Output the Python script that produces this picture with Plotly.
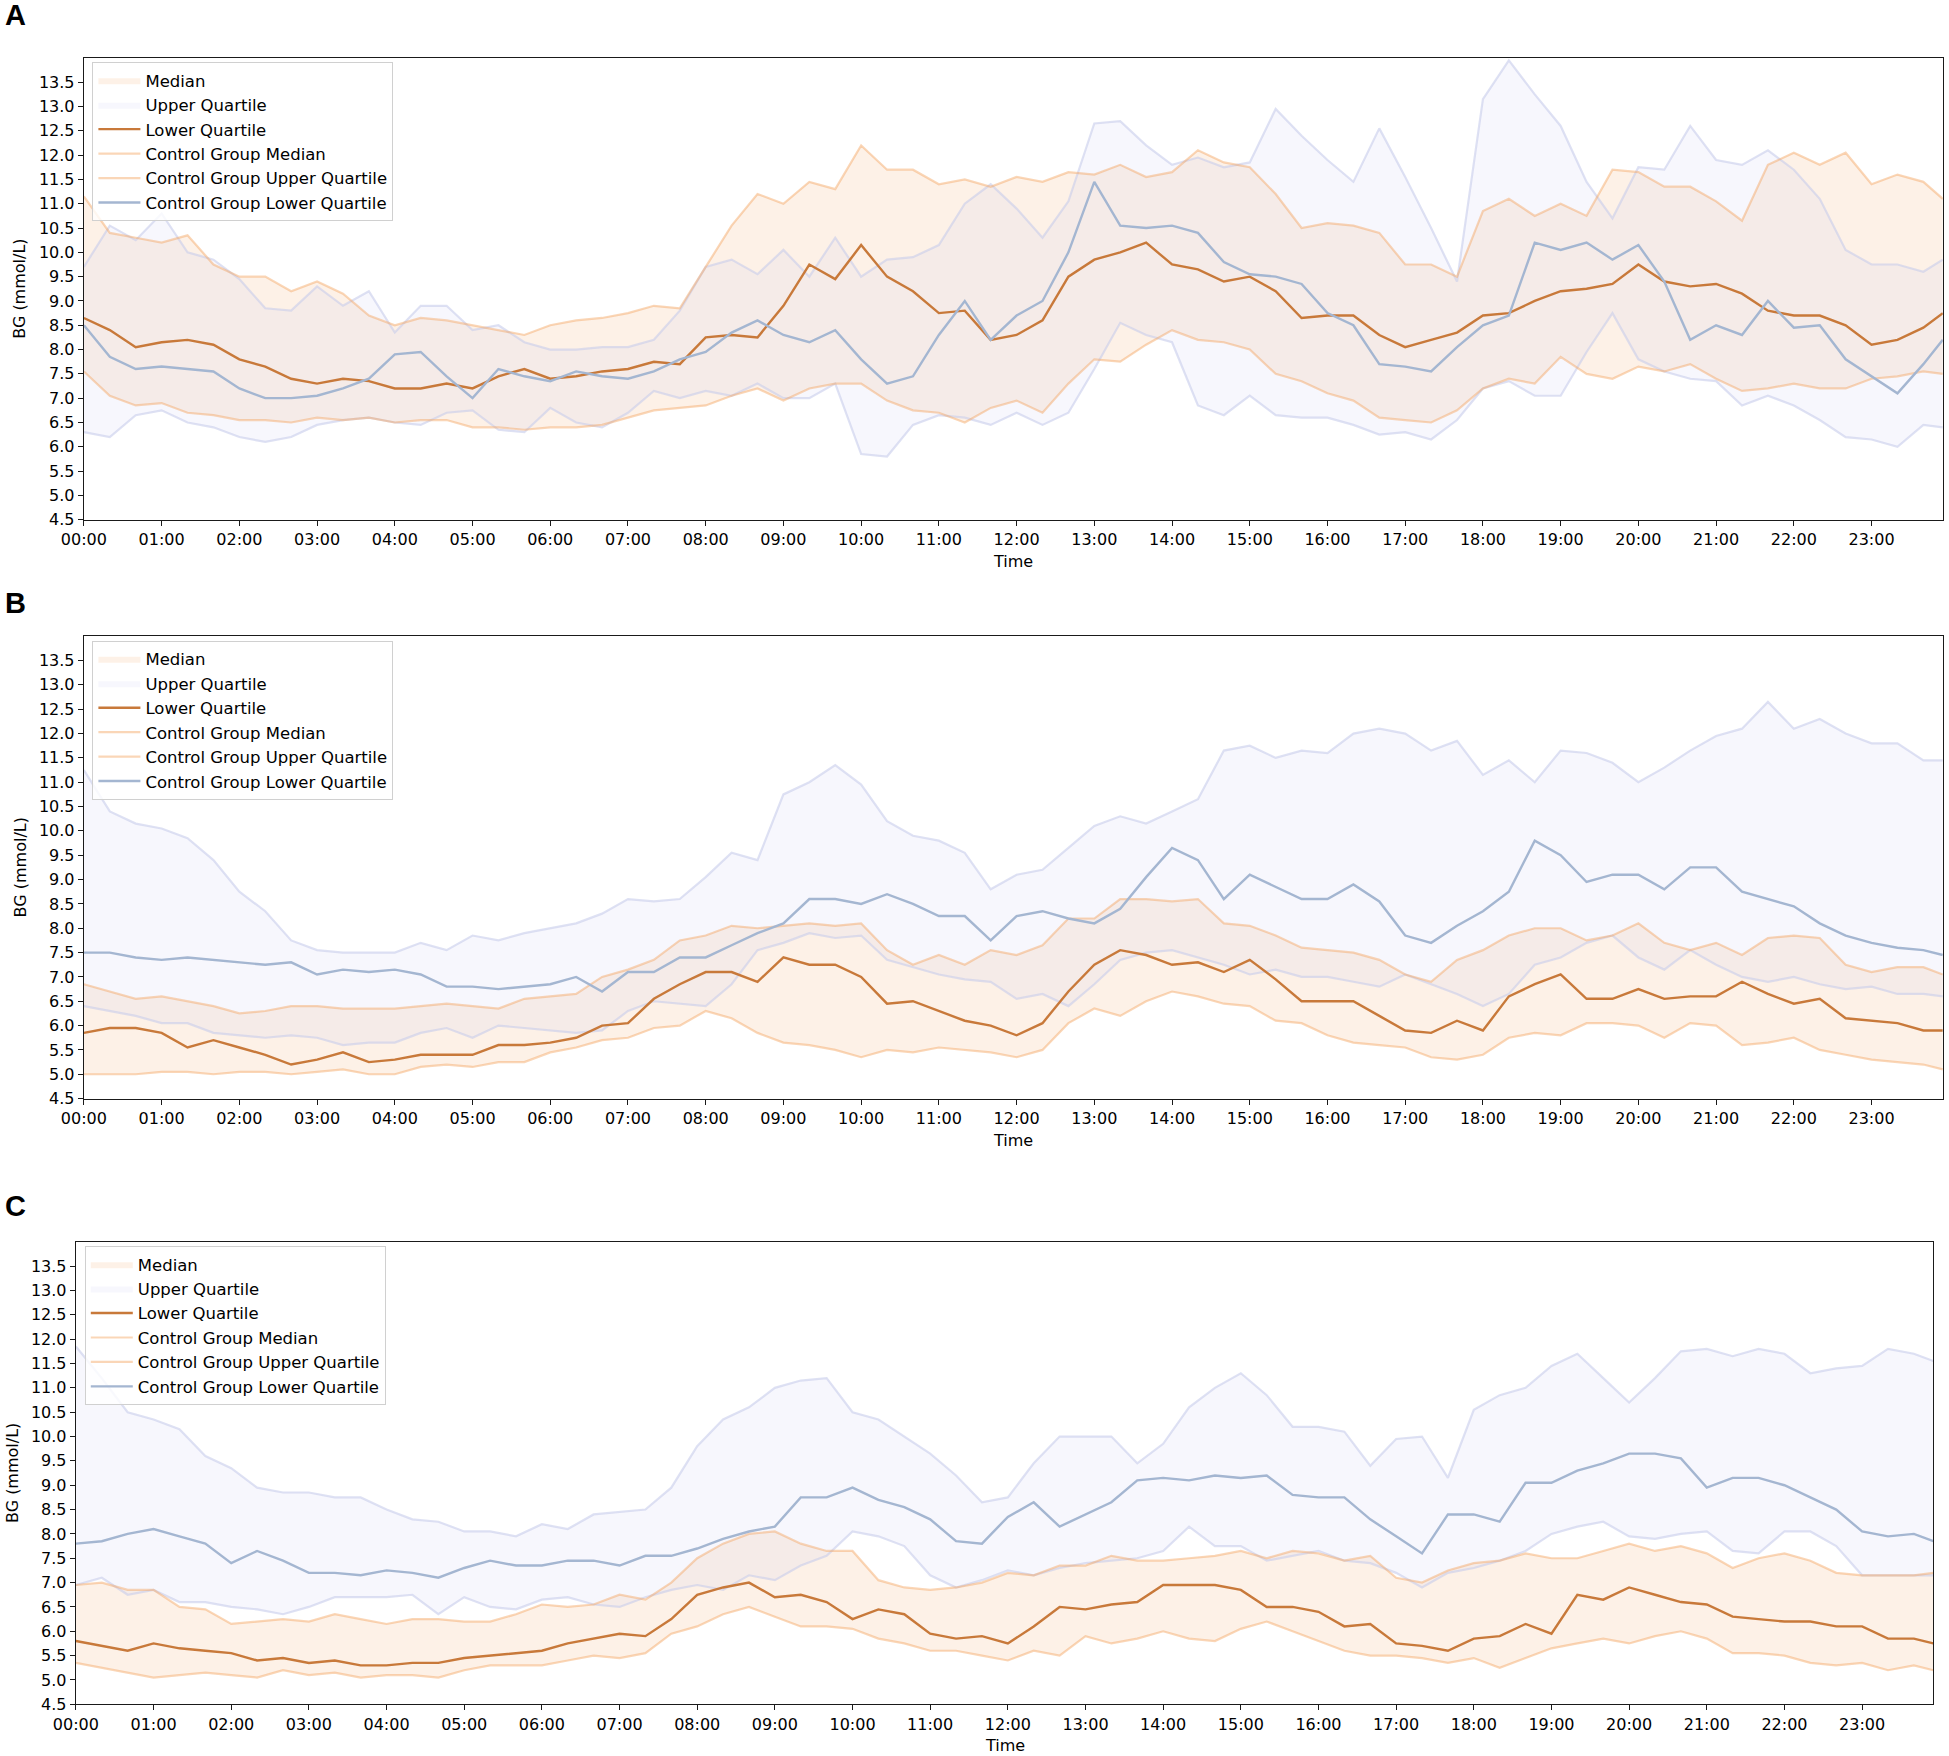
import plotly.graph_objects as go

# readings every 20 minutes, last one at 23:55 (minutes after midnight)
minutes = list(range(0, 1440, 20)) + [1435]

hour_ticks = list(range(0, 1440, 60))
hour_labels = ["00:00", "01:00", "02:00", "03:00", "04:00", "05:00", "06:00", "07:00",
               "08:00", "09:00", "10:00", "11:00", "12:00", "13:00", "14:00", "15:00",
               "16:00", "17:00", "18:00", "19:00", "20:00", "21:00", "22:00", "23:00"]
bg_ticks = [4.5, 5.0, 5.5, 6.0, 6.5, 7.0, 7.5, 8.0, 8.5, 9.0, 9.5, 10.0,
            10.5, 11.0, 11.5, 12.0, 12.5, 13.0, 13.5]

panel_letters = ["A", "B", "C"]
legend_names = ["Median", "Upper Quartile", "Lower Quartile", "Control Group Median",
                "Control Group Upper Quartile", "Control Group Lower Quartile"]

# ---- panel A ----
A_org_hi = [11.15, 10.4, 10.3, 10.2, 10.35, 9.75,
            9.5, 9.5, 9.2, 9.4, 9.15, 8.7,
            8.5, 8.65, 8.6, 8.5, 8.4, 8.3,
            8.5, 8.6, 8.65, 8.75, 8.9, 8.85,
            9.7, 10.55, 11.2, 11.0, 11.45, 11.3,
            12.2, 11.7, 11.7, 11.4, 11.5, 11.35,
            11.55, 11.45, 11.65, 11.6, 11.8, 11.55,
            11.65, 12.1, 11.85, 11.75, 11.2, 10.5,
            10.6, 10.55, 10.4, 9.75, 9.75, 9.5,
            10.85, 11.1, 10.75, 11.0, 10.75, 11.7,
            11.65, 11.35, 11.35, 11.05, 10.65, 11.8,
            12.05, 11.8, 12.05, 11.4, 11.6, 11.45,
            11.1]
A_org_lo = [7.55, 7.05, 6.85, 6.9, 6.7, 6.65,
            6.55, 6.55, 6.5, 6.6, 6.55, 6.6,
            6.5, 6.55, 6.55, 6.4, 6.4, 6.35,
            6.4, 6.4, 6.45, 6.6, 6.75, 6.8,
            6.85, 7.05, 7.2, 6.95, 7.2, 7.3,
            7.3, 6.95, 6.75, 6.7, 6.5, 6.8,
            6.95, 6.7, 7.3, 7.8, 7.75, 8.1,
            8.4, 8.2, 8.15, 8.0, 7.5, 7.35,
            7.1, 6.95, 6.6, 6.55, 6.5, 6.75,
            7.2, 7.4, 7.3, 7.85, 7.5, 7.4,
            7.65, 7.55, 7.7, 7.4, 7.15, 7.2,
            7.3, 7.2, 7.2, 7.4, 7.45, 7.55,
            7.5]
A_lav_hi = [9.7, 10.55, 10.25, 10.8, 10.0, 9.85,
            9.45, 8.85, 8.8, 9.3, 8.9, 9.2,
            8.35, 8.9, 8.9, 8.4, 8.5, 8.15,
            8.0, 8.0, 8.05, 8.05, 8.2, 8.8,
            9.7, 9.85, 9.55, 10.05, 9.5, 10.3,
            9.5, 9.85, 9.9, 10.15, 11.0, 11.4,
            10.9, 10.3, 11.05, 12.65, 12.7, 12.2,
            11.8, 11.95, 11.75, 11.85, 12.95, 12.4,
            11.9, 11.45, 12.55, 11.55, 10.5, 9.4,
            13.15, 13.95, 13.25, 12.6, 11.45, 10.7,
            11.75, 11.7, 12.6, 11.9, 11.8, 12.1,
            11.7, 11.1, 10.05, 9.75, 9.75, 9.6,
            9.85]
A_lav_lo = [6.3, 6.2, 6.65, 6.75, 6.5, 6.4,
            6.2, 6.1, 6.2, 6.45, 6.55, 6.6,
            6.5, 6.45, 6.7, 6.75, 6.35, 6.3,
            6.8, 6.5, 6.4, 6.7, 7.15, 7.0,
            7.15, 7.05, 7.3, 7.0, 7.0, 7.3,
            5.85, 5.8, 6.45, 6.65, 6.6, 6.45,
            6.7, 6.45, 6.7, 7.6, 8.55, 8.3,
            8.15, 6.85, 6.65, 7.05, 6.65, 6.6,
            6.6, 6.45, 6.25, 6.3, 6.15, 6.55,
            7.2, 7.35, 7.05, 7.05, 7.95, 8.75,
            7.8, 7.55, 7.4, 7.35, 6.85, 7.05,
            6.85, 6.55, 6.2, 6.15, 6.0, 6.45,
            6.4]
A_dark = [8.65, 8.4, 8.05, 8.15, 8.2, 8.1,
          7.8, 7.65, 7.4, 7.3, 7.4, 7.35,
          7.2, 7.2, 7.3, 7.2, 7.45, 7.6,
          7.4, 7.45, 7.55, 7.6, 7.75, 7.7,
          8.25, 8.3, 8.25, 8.9, 9.75, 9.45,
          10.15, 9.5, 9.2, 8.75, 8.8, 8.2,
          8.3, 8.6, 9.5, 9.85, 10.0, 10.2,
          9.75, 9.65, 9.4, 9.5, 9.2, 8.65,
          8.7, 8.7, 8.3, 8.05, 8.2, 8.35,
          8.7, 8.75, 9.0, 9.2, 9.25, 9.35,
          9.75, 9.4, 9.3, 9.35, 9.15, 8.8,
          8.7, 8.7, 8.5, 8.1, 8.2, 8.45,
          8.75]
A_blue = [8.5, 7.85, 7.6, 7.65, 7.6, 7.55,
          7.2, 7.0, 7.0, 7.05, 7.2, 7.4,
          7.9, 7.95, 7.45, 7.0, 7.6, 7.45,
          7.35, 7.55, 7.45, 7.4, 7.55, 7.8,
          7.95, 8.35, 8.6, 8.3, 8.15, 8.4,
          7.8, 7.3, 7.45, 8.3, 9.0, 8.2,
          8.7, 9.0, 10.0, 11.45, 10.55, 10.5,
          10.55, 10.4, 9.8, 9.55, 9.5, 9.35,
          8.75, 8.5, 7.7, 7.65, 7.55, 8.05,
          8.5, 8.7, 10.2, 10.05, 10.2, 9.85,
          10.15, 9.4, 8.2, 8.5, 8.3, 9.0,
          8.45, 8.5, 7.8, 7.45, 7.1, 7.7,
          8.2]

# ---- panel B ----
B_org_hi = [6.85, 6.7, 6.55, 6.6, 6.5, 6.4,
            6.25, 6.3, 6.4, 6.4, 6.35, 6.35,
            6.35, 6.4, 6.45, 6.4, 6.35, 6.55,
            6.6, 6.65, 7.0, 7.15, 7.35, 7.75,
            7.85, 8.05, 8.0, 8.05, 8.1, 8.05,
            8.1, 7.55, 7.25, 7.45, 7.25, 7.55,
            7.45, 7.65, 8.2, 8.2, 8.6, 8.6,
            8.55, 8.6, 8.1, 8.05, 7.85, 7.6,
            7.55, 7.5, 7.35, 7.05, 6.9, 7.35,
            7.55, 7.85, 8.0, 8.0, 7.75, 7.85,
            8.1, 7.7, 7.55, 7.7, 7.45, 7.8,
            7.85, 7.8, 7.25, 7.1, 7.2, 7.2,
            7.05]
B_org_lo = [5.0, 5.0, 5.0, 5.05, 5.05, 5.0,
            5.05, 5.05, 5.0, 5.05, 5.1, 5.0,
            5.0, 5.15, 5.2, 5.15, 5.25, 5.25,
            5.45, 5.55, 5.7, 5.75, 5.95, 6.0,
            6.3, 6.15, 5.85, 5.65, 5.6, 5.5,
            5.35, 5.5, 5.45, 5.55, 5.5, 5.45,
            5.35, 5.5, 6.05, 6.35, 6.2, 6.5,
            6.7, 6.6, 6.45, 6.4, 6.1, 6.05,
            5.8, 5.65, 5.6, 5.55, 5.35, 5.3,
            5.4, 5.75, 5.85, 5.8, 6.05, 6.05,
            6.0, 5.75, 6.05, 6.0, 5.6, 5.65,
            5.75, 5.5, 5.4, 5.3, 5.25, 5.2,
            5.1]
B_lav_hi = [11.25, 10.4, 10.15, 10.05, 9.85, 9.4,
            8.75, 8.35, 7.75, 7.55, 7.5, 7.5,
            7.5, 7.7, 7.55, 7.85, 7.75, 7.9,
            8.0, 8.1, 8.3, 8.6, 8.55, 8.6,
            9.05, 9.55, 9.4, 10.75, 11.0, 11.35,
            10.95, 10.2, 9.9, 9.8, 9.55, 8.8,
            9.1, 9.2, 9.65, 10.1, 10.3, 10.15,
            10.4, 10.65, 11.65, 11.75, 11.5, 11.65,
            11.6, 12.0, 12.1, 12.0, 11.65, 11.85,
            11.15, 11.45, 11.0, 11.65, 11.6, 11.4,
            11.0, 11.3, 11.65, 11.95, 12.1, 12.65,
            12.1, 12.3, 12.0, 11.8, 11.8, 11.45,
            11.45]
B_lav_lo = [6.4, 6.3, 6.2, 6.05, 6.05, 5.85,
            5.8, 5.75, 5.8, 5.75, 5.6, 5.65,
            5.65, 5.85, 5.95, 5.75, 6.0, 5.95,
            5.9, 5.85, 5.9, 6.3, 6.5, 6.45,
            6.4, 6.85, 7.55, 7.7, 7.9, 7.8,
            7.85, 7.35, 7.2, 7.05, 6.95, 6.9,
            6.55, 6.65, 6.4, 6.85, 7.35, 7.5,
            7.55, 7.4, 7.25, 7.05, 7.15, 7.0,
            7.0, 6.9, 6.8, 7.05, 6.85, 6.65,
            6.4, 6.65, 7.25, 7.4, 7.7, 7.85,
            7.4, 7.15, 7.55, 7.25, 7.0, 6.9,
            7.0, 6.85, 6.75, 6.8, 6.65, 6.65,
            6.6]
B_dark = [5.85, 5.95, 5.95, 5.85, 5.55, 5.7,
          5.55, 5.4, 5.2, 5.3, 5.45, 5.25,
          5.3, 5.4, 5.4, 5.4, 5.6, 5.6,
          5.65, 5.75, 6.0, 6.05, 6.55, 6.85,
          7.1, 7.1, 6.9, 7.4, 7.25, 7.25,
          7.0, 6.45, 6.5, 6.3, 6.1, 6.0,
          5.8, 6.05, 6.7, 7.25, 7.55, 7.45,
          7.25, 7.3, 7.1, 7.35, 6.95, 6.5,
          6.5, 6.5, 6.2, 5.9, 5.85, 6.1,
          5.9, 6.6, 6.85, 7.05, 6.55, 6.55,
          6.75, 6.55, 6.6, 6.6, 6.9, 6.65,
          6.45, 6.55, 6.15, 6.1, 6.05, 5.9,
          5.9]
B_blue = [7.5, 7.5, 7.4, 7.35, 7.4, 7.35,
          7.3, 7.25, 7.3, 7.05, 7.15, 7.1,
          7.15, 7.05, 6.8, 6.8, 6.75, 6.8,
          6.85, 7.0, 6.7, 7.1, 7.1, 7.4,
          7.4, 7.65, 7.9, 8.1, 8.6, 8.6,
          8.5, 8.7, 8.5, 8.25, 8.25, 7.75,
          8.25, 8.35, 8.2, 8.1, 8.4, 9.05,
          9.65, 9.4, 8.6, 9.1, 8.85, 8.6,
          8.6, 8.9, 8.55, 7.85, 7.7, 8.05,
          8.35, 8.75, 9.8, 9.5, 8.95, 9.1,
          9.1, 8.8, 9.25, 9.25, 8.75, 8.6,
          8.45, 8.1, 7.85, 7.7, 7.6, 7.55,
          7.45]

# ---- panel C ----
C_org_hi = [6.95, 7.0, 6.85, 6.85, 6.5, 6.45,
            6.15, 6.2, 6.25, 6.2, 6.35, 6.25,
            6.15, 6.25, 6.25, 6.2, 6.2, 6.35,
            6.55, 6.5, 6.55, 6.75, 6.65, 7.0,
            7.5, 7.8, 8.0, 8.05, 7.8, 7.65,
            7.65, 7.05, 6.9, 6.85, 6.9, 7.0,
            7.2, 7.15, 7.35, 7.35, 7.55, 7.45,
            7.45, 7.5, 7.55, 7.65, 7.5, 7.65,
            7.6, 7.45, 7.55, 7.1, 7.0, 7.25,
            7.4, 7.45, 7.6, 7.5, 7.5, 7.65,
            7.8, 7.65, 7.75, 7.6, 7.3, 7.5,
            7.6, 7.45, 7.2, 7.15, 7.15, 7.15,
            7.2]
C_org_lo = [5.35, 5.25, 5.15, 5.05, 5.1, 5.15,
            5.1, 5.05, 5.2, 5.1, 5.15, 5.05,
            5.1, 5.1, 5.05, 5.2, 5.3, 5.3,
            5.3, 5.4, 5.5, 5.45, 5.55, 5.95,
            6.1, 6.35, 6.5, 6.3, 6.1, 6.1,
            6.05, 5.85, 5.75, 5.6, 5.6, 5.5,
            5.4, 5.6, 5.5, 5.9, 5.75, 5.85,
            6.0, 5.85, 5.8, 6.05, 6.2, 6.0,
            5.8, 5.6, 5.5, 5.5, 5.45, 5.35,
            5.45, 5.25, 5.45, 5.65, 5.75, 5.85,
            5.75, 5.9, 6.0, 5.85, 5.55, 5.55,
            5.5, 5.35, 5.3, 5.35, 5.2, 5.3,
            5.2]
C_lav_hi = [11.85, 11.2, 10.5, 10.35, 10.15, 9.6,
            9.35, 8.95, 8.85, 8.85, 8.75, 8.75,
            8.5, 8.3, 8.25, 8.05, 8.05, 7.95,
            8.2, 8.1, 8.4, 8.45, 8.5, 8.95,
            9.8, 10.35, 10.6, 11.0, 11.15, 11.2,
            10.5, 10.35, 10.0, 9.65, 9.2, 8.65,
            8.75, 9.45, 10.0, 10.0, 10.0, 9.45,
            9.85, 10.6, 11.0, 11.3, 10.85, 10.2,
            10.2, 10.1, 9.4, 9.95, 10.0, 9.15,
            10.55, 10.85, 11.0, 11.45, 11.7, 11.2,
            10.7, 11.2, 11.75, 11.8, 11.65, 11.8,
            11.7, 11.3, 11.4, 11.45, 11.8, 11.7,
            11.55]
C_lav_lo = [6.95, 7.1, 6.75, 6.85, 6.6, 6.6,
            6.5, 6.45, 6.35, 6.5, 6.7, 6.7,
            6.7, 6.75, 6.35, 6.7, 6.5, 6.45,
            6.65, 6.7, 6.55, 6.5, 6.7, 6.85,
            6.95, 6.85, 7.15, 7.05, 7.35, 7.55,
            8.05, 7.95, 7.75, 7.15, 6.9, 7.05,
            7.25, 7.15, 7.3, 7.4, 7.45, 7.5,
            7.65, 8.15, 7.75, 7.75, 7.45, 7.55,
            7.65, 7.45, 7.4, 7.2, 6.9, 7.2,
            7.3, 7.45, 7.65, 8.0, 8.15, 8.25,
            7.95, 7.9, 8.0, 8.05, 7.65, 7.6,
            8.05, 8.05, 7.75, 7.15, 7.15, 7.15,
            7.15]
C_dark = [5.8, 5.7, 5.6, 5.75, 5.65, 5.6,
          5.55, 5.4, 5.45, 5.35, 5.4, 5.3,
          5.3, 5.35, 5.35, 5.45, 5.5, 5.55,
          5.6, 5.75, 5.85, 5.95, 5.9, 6.25,
          6.75, 6.9, 7.0, 6.7, 6.75, 6.6,
          6.25, 6.45, 6.35, 5.95, 5.85, 5.9,
          5.75, 6.1, 6.5, 6.45, 6.55, 6.6,
          6.95, 6.95, 6.95, 6.85, 6.5, 6.5,
          6.4, 6.1, 6.15, 5.75, 5.7, 5.6,
          5.85, 5.9, 6.15, 5.95, 6.75, 6.65,
          6.9, 6.75, 6.6, 6.55, 6.3, 6.25,
          6.2, 6.2, 6.1, 6.1, 5.85, 5.85,
          5.75]
C_blue = [7.8, 7.85, 8.0, 8.1, 7.95, 7.8,
          7.4, 7.65, 7.45, 7.2, 7.2, 7.15,
          7.25, 7.2, 7.1, 7.3, 7.45, 7.35,
          7.35, 7.45, 7.45, 7.35, 7.55, 7.55,
          7.7, 7.9, 8.05, 8.15, 8.75, 8.75,
          8.95, 8.7, 8.55, 8.3, 7.85, 7.8,
          8.35, 8.65, 8.15, 8.4, 8.65, 9.1,
          9.15, 9.1, 9.2, 9.15, 9.2, 8.8,
          8.75, 8.75, 8.3, 7.95, 7.6, 8.4,
          8.4, 8.25, 9.05, 9.05, 9.3, 9.45,
          9.65, 9.65, 9.55, 8.95, 9.15, 9.15,
          9.0, 8.75, 8.5, 8.05, 7.95, 8.0,
          7.85]

ORANGE_FILL = "rgba(244,164,96,0.15)"
LAV_FILL = "rgba(200,200,240,0.14)"
ORANGE_EDGE = "rgba(244,164,96,0.45)"
LAV_EDGE = "rgba(200,205,235,0.6)"
DARK = "#c8793a"
BLUE = "#a4b6d1"
FONT = "DejaVu Sans"

panels = [
    (A_org_lo, A_org_hi, A_lav_lo, A_lav_hi, A_dark, A_blue),
    (B_org_lo, B_org_hi, B_lav_lo, B_lav_hi, B_dark, B_blue),
    (C_org_lo, C_org_hi, C_lav_lo, C_lav_hi, C_dark, C_blue),
]

# page is 1949 x 1756, positions below are taken from the reference in pixels
W, H = 1949, 1756
x_dom = [[83.9 / W, 1942.8 / W], [83.9 / W, 1942.8 / W], [75.9 / W, 1933.3 / W]]
y_dom = [[1 - 519.7 / H, 1 - 57.9 / H], [1 - 1098.6 / H, 1 - 636.2 / H], [1 - 1704.3 / H, 1 - 1241.8 / H]]
legend_xy = [(92.4 / W, 1 - 62 / H), (92.4 / W, 1 - 640.6 / H), (84.8 / W, 1 - 1245.9 / H)]
letter_y = [-3, 585, 1188]
ytitle_x = [20, 20, 12]
xtitle_y = [561.7, 1140.6, 1745.6]

fig = go.Figure()

for i, (org_lo, org_hi, lav_lo, lav_hi, dark, blue) in enumerate(panels):
    n = "" if i == 0 else str(i + 1)
    common = dict(x=minutes, xaxis="x" + n, yaxis="y" + n, legend="legend" + n,
                  hoverinfo="skip", mode="lines")

    # shaded bands
    fig.add_trace(go.Scatter(y=org_lo, line=dict(width=0), showlegend=False, **common))
    fig.add_trace(go.Scatter(y=org_hi, line=dict(width=0), fill="tonexty",
                             fillcolor=ORANGE_FILL, name=legend_names[0], legendrank=1, **common))
    fig.add_trace(go.Scatter(y=lav_lo, line=dict(width=0), showlegend=False, **common))
    fig.add_trace(go.Scatter(y=lav_hi, line=dict(width=0), fill="tonexty",
                             fillcolor=LAV_FILL, name=legend_names[1], legendrank=2, **common))

    # band edges
    fig.add_trace(go.Scatter(y=lav_hi, line=dict(color=LAV_EDGE, width=2.2), showlegend=False, **common))
    fig.add_trace(go.Scatter(y=lav_lo, line=dict(color=LAV_EDGE, width=2.2), showlegend=False, **common))
    fig.add_trace(go.Scatter(y=org_hi, line=dict(color=ORANGE_EDGE, width=2.2),
                             name=legend_names[3], legendrank=4, **common))
    fig.add_trace(go.Scatter(y=org_lo, line=dict(color=ORANGE_EDGE, width=2.2),
                             name=legend_names[4], legendrank=5, **common))

    # central lines
    fig.add_trace(go.Scatter(y=dark, line=dict(color=DARK, width=2.4),
                             name=legend_names[2], legendrank=3, **common))
    fig.add_trace(go.Scatter(y=blue, line=dict(color=BLUE, width=2.4),
                             name=legend_names[5], legendrank=6, **common))

    axis_common = dict(showgrid=False, zeroline=False, showline=True, mirror=True,
                       linecolor="#1a1a1a", linewidth=1.3, ticks="outside", ticklen=5,
                       tickwidth=1.3, tickcolor="#1a1a1a", automargin=False,
                       tickfont=dict(family=FONT, size=16, color="black"))
    fig.update_layout(**{
        "xaxis" + n: dict(domain=x_dom[i], range=[0, 1435], tickvals=hour_ticks,
                          ticktext=hour_labels, anchor="y" + n, **axis_common),
        "yaxis" + n: dict(domain=y_dom[i], range=[4.5, 14.0], tickvals=bg_ticks,
                          tickformat=".1f", anchor="x" + n, **axis_common),
        "legend" + n: dict(x=legend_xy[i][0], y=legend_xy[i][1], xanchor="left", yanchor="top",
                           traceorder="normal", itemwidth=42, bgcolor="rgba(255,255,255,0.8)",
                           bordercolor="#d0d0d0", borderwidth=1,
                           font=dict(family=FONT, size=16.5, color="black")),
    })

    fig.add_annotation(text="<b>" + panel_letters[i] + "</b>", xref="paper", yref="paper",
                       x=3 / W, y=1 - letter_y[i] / H, xanchor="left", yanchor="top",
                       showarrow=False, font=dict(family="Liberation Sans", size=29, color="black"))
    fig.add_annotation(text="BG (mmol/L)", xref="paper", yref="paper", textangle=-90,
                       x=ytitle_x[i] / W, y=sum(y_dom[i]) / 2, xanchor="center", yanchor="middle",
                       showarrow=False, font=dict(family=FONT, size=16, color="black"))
    fig.add_annotation(text="Time", xref="paper", yref="paper",
                       x=sum(x_dom[i]) / 2, y=1 - xtitle_y[i] / H, xanchor="center", yanchor="middle",
                       showarrow=False, font=dict(family=FONT, size=16, color="black"))

fig.update_layout(width=W, height=H, margin=dict(l=0, r=0, t=0, b=0),
                  plot_bgcolor="white", paper_bgcolor="white", showlegend=True)

fig.write_html("out.html", config={"displayModeBar": False},
               post_script="document.body.style.margin='0px';")
